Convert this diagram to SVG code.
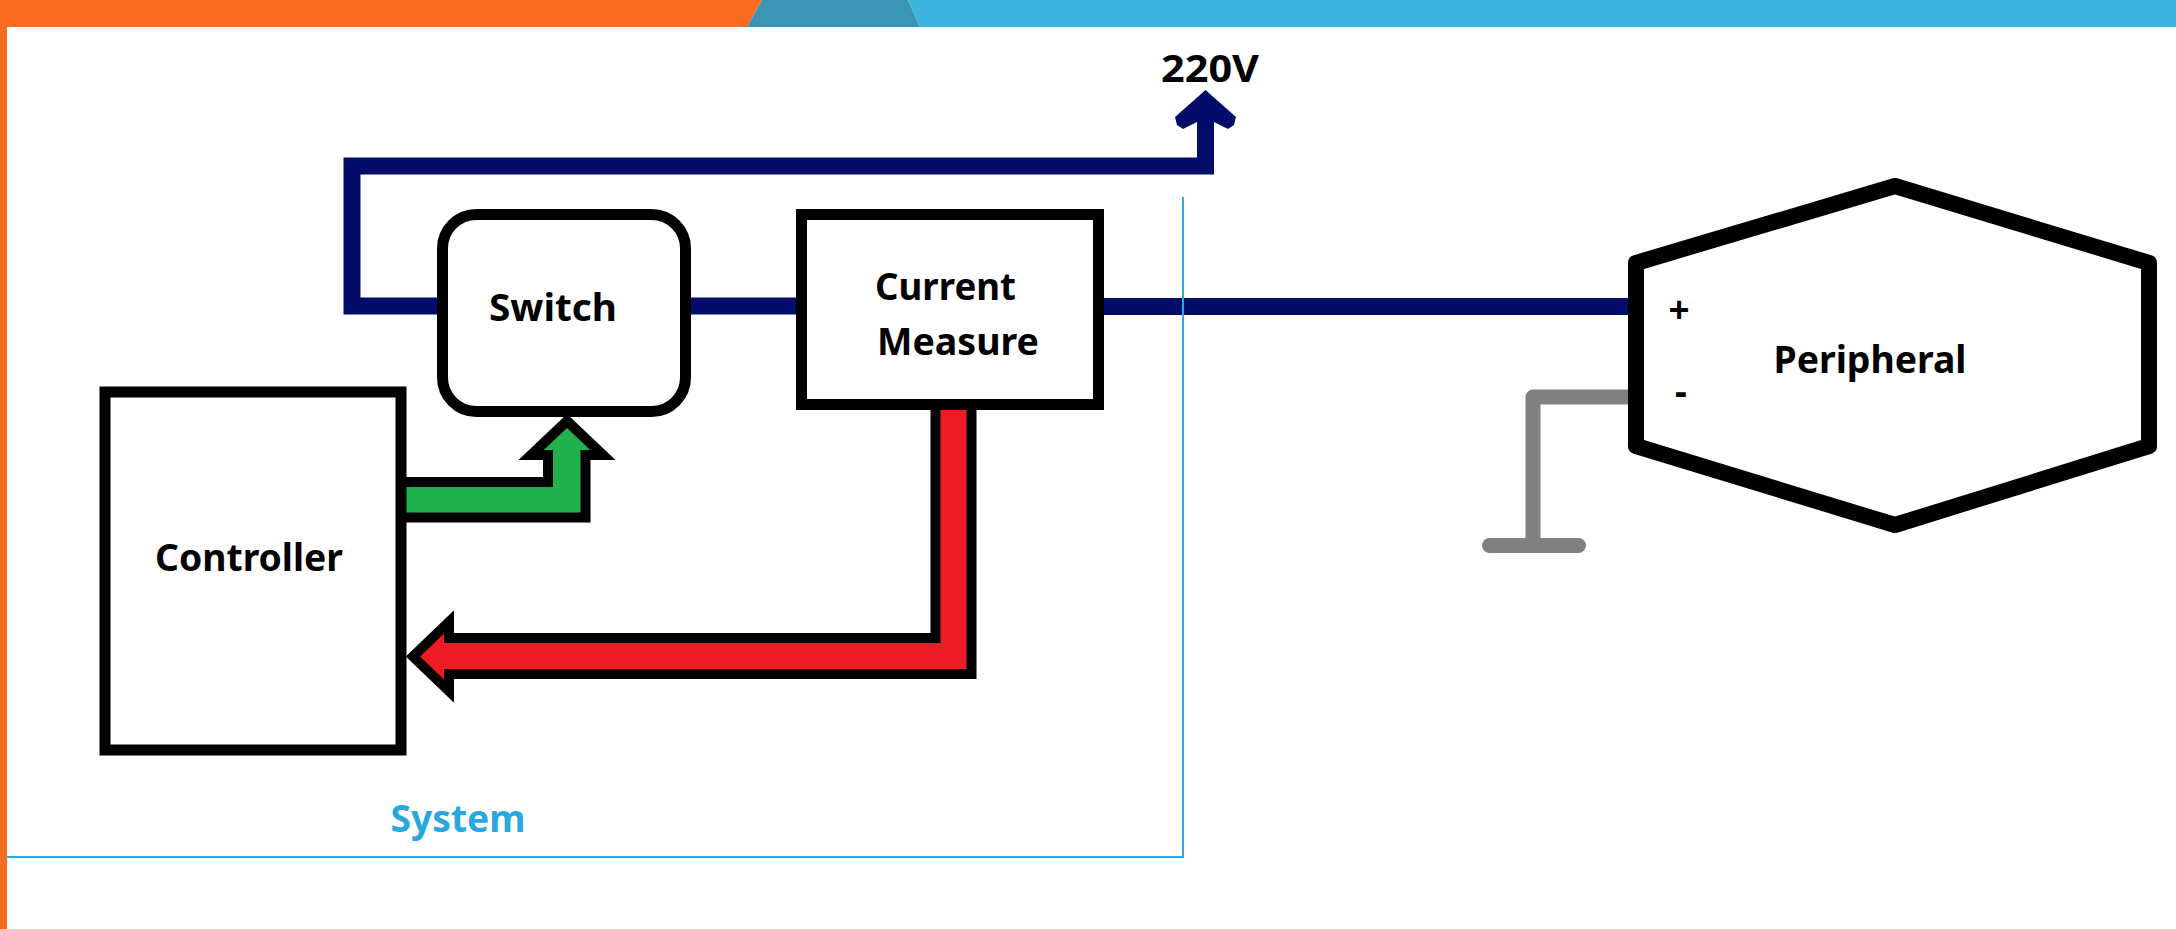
<svg xmlns="http://www.w3.org/2000/svg" width="2176" height="929" viewBox="0 0 2176 929">
<style>
.lbl{font-family:"Noto Sans","Open Sans","DejaVu Sans",sans-serif;font-weight:700;font-size:37px;fill:#000}
.node{fill:#fff;stroke:#000;stroke-width:11}
.wire{fill:none;stroke:#040C6A;stroke-width:17}
.outl{stroke:#000;stroke-width:10;stroke-linejoin:miter}
.sys{stroke:#29A8E0;stroke-width:2;fill:none}
</style>
<rect x="0" y="0" width="2176" height="929" fill="#fff"/>
<g id="banner">
<polygon points="0,0 762,0 747,27 0,27" fill="#F96B1E"/>
<polygon points="762,0 908,0 920,27 747,27" fill="#3A96B4"/>
<polygon points="908,0 2176,0 2176,27 920,27" fill="#3BB4E0"/>
<rect x="0" y="0" width="7" height="929" fill="#F96B1E"/>
</g>
<g id="connectors">
<path class="wire" d="M1205.5,121 V166 H352 V306 H445"/>
<polygon points="1205.5,90 1236,117 1234,125 1228,129 1214,122 1197,122 1183,129 1177,125 1175,117" fill="#040C6A"/>
<line class="wire" x1="688" y1="306" x2="802" y2="306"/>
<line class="wire" x1="1100" y1="306.5" x2="1640" y2="306.5"/>
<path d="M1632,397 H1533 V545" fill="none" stroke="#808080" stroke-width="15" stroke-linejoin="round"/>
<line x1="1489.5" y1="545.5" x2="1578.5" y2="545.5" stroke="#808080" stroke-width="15" stroke-linecap="round"/>
<polygon class="outl" fill="#22B14C" points="401,482 548,482 548,455 531,455 567,421 603,455 585.5,455 585.5,517.5 401,517.5"/>
<polygon class="outl" fill="#ED1C24" points="935.5,405 935.5,638 449,638 449,622 413,656.5 449,691 449,674 971.5,674 971.5,405"/>
</g>
<g id="switch">
<rect class="node" x="442.5" y="214.5" width="243" height="197" rx="34" ry="34"/>
<text class="lbl" x="553" y="321" text-anchor="middle" textLength="128" lengthAdjust="spacingAndGlyphs">Switch</text>
</g>
<g id="current-measure">
<rect class="node" x="801.5" y="214.5" width="297" height="190"/>
<text class="lbl" x="875" y="300" textLength="141" lengthAdjust="spacingAndGlyphs">Current</text>
<text class="lbl" x="877" y="355" textLength="162" lengthAdjust="spacingAndGlyphs">Measure</text>
</g>
<g id="controller">
<rect class="node" x="105" y="392" width="296" height="358" stroke-width="10"/>
<text class="lbl" x="249" y="571" text-anchor="middle" textLength="188" lengthAdjust="spacingAndGlyphs">Controller</text>
</g>
<g id="peripheral">
<polygon points="1636,263 1895,186 2149,263 2149,446 1895,525 1636,446" fill="#fff" stroke="#000" stroke-width="16" stroke-linejoin="round"/>
<text class="lbl" x="1870" y="373" text-anchor="middle" textLength="193" lengthAdjust="spacingAndGlyphs">Peripheral</text>
<text class="lbl" x="1679" y="323" text-anchor="middle" font-size="32">+</text>
<text class="lbl" x="1681" y="405" text-anchor="middle" font-size="32">-</text>
</g>
<g id="supply">
<text class="lbl" x="1210" y="82" text-anchor="middle" textLength="98" lengthAdjust="spacingAndGlyphs">220V</text>
</g>
<g id="system">
<path class="sys" d="M1183,197 V857 H7"/>
<text class="lbl" x="458" y="832" text-anchor="middle" fill="#29A8E0" style="fill:#29A8E0" textLength="135" lengthAdjust="spacingAndGlyphs">System</text>
</g>
</svg>
